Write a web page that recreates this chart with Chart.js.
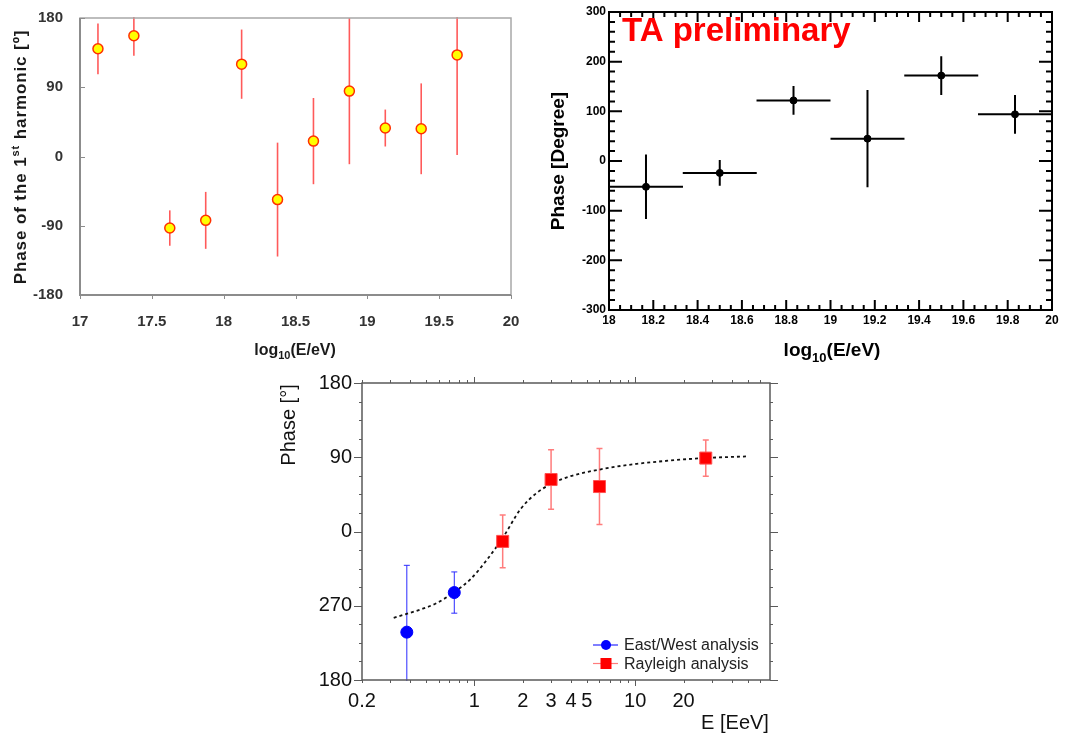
<!DOCTYPE html>
<html>
<head>
<meta charset="utf-8">
<script src="https://cdn.jsdelivr.net/npm/chart.js@4.4.0/dist/chart.umd.min.js"></script>
<style>
  html, body { margin: 0; padding: 0; background: #fff; }
  body { width: 1071px; height: 736px; position: relative; overflow: hidden; }
  canvas { position: absolute; }
  #c-auger { left: 0; top: 0; }
  #c-ta    { left: 540px; top: 0; }
  #c-pao   { left: 270px; top: 370px; }
</style>
</head>
<body>
<canvas id="c-auger" width="540" height="365"></canvas>
<canvas id="c-ta" width="531" height="365"></canvas>
<canvas id="c-pao" width="520" height="366"></canvas>
<script>
'use strict';

// ─── DATA ────────────────────────────────────────────────────────────────────

// top left: phase of the first harmonic vs log10(E/eV)
const augerLogE  = [17.125, 17.375, 17.625, 17.875, 18.125, 18.375, 18.625, 18.875, 19.125, 19.375, 19.625];
const augerPhase = [140, 157, -93, -83, 120, -56, 20, 85, 37, 36, 132];
const augerErr   = [33, 26, 23, 37, 45, 74, 56, 95, 24, 59, 130];

// top right: TA preliminary
const taLogE    = [18.167, 18.5, 18.833, 19.167, 19.5, 19.833];
const taBinHalf = [0.167, 0.167, 0.167, 0.167, 0.167, 0.167];
const taPhase   = [-52, -24, 122, 45, 172, 94];
const taErr     = [65, 26, 29, 98, 39, 39];

// bottom: phase vs E [EeV]
const ewEnergy   = [0.38, 0.75];
const ewPhase    = [-122, -74];
const ewErr      = [81, 25];
const rayEnergy  = [1.5, 3, 6, 27.5];
const rayPhase   = [-12, 63, 54.5, 89];
const rayErr     = [32, 36, 46, 22];
const fitEnergy  = [0.315, 0.462, 0.586, 0.748, 0.944, 1.2, 1.52, 1.93, 2.45, 3.11, 3.95, 6.36, 10.2, 16.5, 26.6, 49.4];
const fitPhase   = [-104.6, -94.5, -86.5, -73.5, -58, -34, -6, 26.7, 47, 59, 67, 76, 82, 86, 89, 91];
const energyTicks = [0.2, 1, 2, 3, 4, 5, 10, 20];
const phaseTicks  = [-180, -90, 0, 90, 180];

// ─── HELPERS ─────────────────────────────────────────────────────────────────

const pts = (xs, ys) => xs.map((x, i) => ({ x, y: ys[i] }));
const plainNum = v => String(+Number(v).toFixed(3));

// error bars, drawn under the markers and clipped to the plot area
const errorBars = {
  id: 'errorBars',
  beforeDatasetsDraw(chart) {
    const { ctx, chartArea: a, scales: { x, y } } = chart;
    ctx.save();
    ctx.beginPath();
    ctx.rect(a.left, a.top - 1, a.width, a.height + 2);
    ctx.clip();
    chart.data.datasets.forEach(ds => {
      if (!ds.yErr) return;
      ctx.strokeStyle = ds.errColor;
      ctx.lineWidth = ds.errWidth || 1;
      ds.data.forEach((p, i) => {
        const px = x.getPixelForValue(p.x);
        const py = y.getPixelForValue(p.y);
        const t = y.getPixelForValue(p.y + ds.yErr[i]);
        const b = y.getPixelForValue(p.y - ds.yErr[i]);
        ctx.beginPath();
        ctx.moveTo(px, t); ctx.lineTo(px, b);
        if (ds.xErr) {
          ctx.moveTo(x.getPixelForValue(p.x - ds.xErr[i]), py);
          ctx.lineTo(x.getPixelForValue(p.x + ds.xErr[i]), py);
        }
        if (ds.cap) {
          ctx.moveTo(px - ds.cap, t); ctx.lineTo(px + ds.cap, t);
          ctx.moveTo(px - ds.cap, b); ctx.lineTo(px + ds.cap, b);
        }
        ctx.stroke();
      });
    });
    ctx.restore();
  }
};

// text made of pieces (sub / superscripts), centred on x, baseline on y
function richText(ctx, parts, x, y, rotate, color, spacing) {
  ctx.save();
  ctx.translate(x, y);
  if (rotate) ctx.rotate(-Math.PI / 2);
  ctx.fillStyle = color;
  ctx.textBaseline = 'alphabetic';
  ctx.textAlign = 'left';
  if (spacing) ctx.letterSpacing = spacing + 'px';
  let total = 0;
  parts.forEach(p => { ctx.font = p.font; total += ctx.measureText(p.text).width; });
  let cx = -total / 2;
  parts.forEach(p => {
    ctx.font = p.font;
    ctx.fillText(p.text, cx, p.dy || 0);
    cx += ctx.measureText(p.text).width;
  });
  ctx.restore();
}

const titlesPlugin = {
  id: 'titles',
  afterDraw(chart, args, opts) {
    (opts.items || []).forEach(it => richText(chart.ctx, it.parts, it.x, it.y, it.rotate, it.color, it.spacing));
  }
};

// fixed axis boxes so the plot area lands where the reference has it
function fixedLayout(yWidth, xHeight) {
  return {
    y: s => { s.width = yWidth; s.paddingTop = 0; s.paddingBottom = 0; },
    x: s => { s.height = xHeight; s.paddingLeft = 0; s.paddingRight = 0; },
  };
}

function stepValues(min, max, step) {
  const out = [];
  const n = Math.round((max - min) / step);
  for (let k = 0; k <= n; k++) out.push(min + k * step);
  return out;
}

Chart.defaults.animation = false;
Chart.defaults.font.family = "'Liberation Sans', Arial, sans-serif";

// ─── TOP LEFT ────────────────────────────────────────────────────────────────

const augerFont = "'Liberation Sans', Arial, sans-serif";
const fitA = fixedLayout(80, 70);

new Chart(document.getElementById('c-auger'), {
  type: 'scatter',
  data: {
    datasets: [{
      data: pts(augerLogE, augerPhase),
      yErr: augerErr,
      errColor: '#ff5a5a',
      errWidth: 1.6,
      pointRadius: 5,
      pointBackgroundColor: '#ffff00',
      pointBorderColor: '#ff3000',
      pointBorderWidth: 1.5,
    }],
  },
  options: {
    responsive: false,
    layout: { autoPadding: false, padding: { top: 18, right: 29, left: 0, bottom: 0 } },
    plugins: {
      legend: { display: false },
      tooltip: { enabled: false },
      titles: {
        items: [
          { x: 26, y: 157, rotate: true, color: '#1a1a1a', spacing: 0.9, parts: [
            { text: 'Phase of the 1', font: `bold 17px ${augerFont}` },
            { text: 'st', font: `bold 11px ${augerFont}`, dy: -7 },
            { text: ' harmonic [º]', font: `bold 17px ${augerFont}` },
          ] },
          { x: 295, y: 355, color: '#1a1a1a', parts: [
            { text: 'log', font: `bold 16px ${augerFont}` },
            { text: '10', font: `bold 11px ${augerFont}`, dy: 4 },
            { text: '(E/eV)', font: `bold 16px ${augerFont}` },
          ] },
        ],
      },
    },
    scales: {
      x: {
        type: 'linear', min: 17, max: 20,
        afterFit: fitA.x,
        grid: { display: false, drawTicks: false },
        border: { display: false },
        ticks: { stepSize: 0.5, padding: 18, color: '#333', font: { size: 15, weight: 'bold' }, callback: plainNum },
      },
      y: {
        type: 'linear', min: -180, max: 180,
        afterFit: fitA.y,
        grid: { display: false, drawTicks: false },
        border: { display: false },
        ticks: { stepSize: 90, padding: 17, color: '#333', font: { size: 15, weight: 'bold' }, callback: plainNum },
      },
    },
  },
  plugins: [errorBars, titlesPlugin, {
    id: 'augerFrame',
    beforeDatasetsDraw(chart) {
      const { ctx, chartArea: a, scales: { x, y } } = chart;
      ctx.save();
      ctx.strokeStyle = '#a8a8a8';
      ctx.lineWidth = 1.5;
      ctx.strokeRect(a.left, a.top, a.width, a.height);
      ctx.strokeStyle = '#8c8c8c';
      ctx.lineWidth = 2;
      ctx.beginPath();
      ctx.moveTo(a.left, a.top); ctx.lineTo(a.left, a.bottom); ctx.lineTo(a.right, a.bottom);
      ctx.stroke();
      ctx.lineWidth = 1;
      ctx.beginPath();
      y.ticks.forEach(t => {
        const py = Math.round(y.getPixelForValue(t.value)) + 0.5;
        ctx.moveTo(a.left, py); ctx.lineTo(a.left + 5, py);
      });
      x.ticks.forEach(t => {
        const px = Math.round(x.getPixelForValue(t.value)) + 0.5;
        ctx.moveTo(px, a.bottom); ctx.lineTo(px, a.bottom + 4);
      });
      ctx.stroke();
      ctx.restore();
    },
  }],
});

// ─── TOP RIGHT ───────────────────────────────────────────────────────────────

const fitT = fixedLayout(69, 55);

new Chart(document.getElementById('c-ta'), {
  type: 'scatter',
  data: {
    datasets: [{
      data: pts(taLogE, taPhase),
      yErr: taErr,
      xErr: taBinHalf,
      errColor: '#000',
      errWidth: 2,
      pointRadius: 3.5,
      pointBackgroundColor: '#000',
      pointBorderColor: '#000',
      pointBorderWidth: 1,
    }],
  },
  options: {
    responsive: false,
    layout: { autoPadding: false, padding: { top: 12, right: 19, left: 0, bottom: 0 } },
    plugins: {
      legend: { display: false },
      tooltip: { enabled: false },
      titles: {
        items: [
          { x: 24, y: 161, rotate: true, color: '#000', parts: [
            { text: 'Phase [Degree]', font: "bold 19px 'Liberation Sans', Arial, sans-serif" },
          ] },
          { x: 292, y: 356, color: '#000', parts: [
            { text: 'log', font: "bold 19px 'Liberation Sans', Arial, sans-serif" },
            { text: '10', font: "bold 13px 'Liberation Sans', Arial, sans-serif", dy: 6 },
            { text: '(E/eV)', font: "bold 19px 'Liberation Sans', Arial, sans-serif" },
          ] },
        ],
      },
    },
    scales: {
      x: {
        type: 'linear', min: 18, max: 20,
        afterFit: fitT.x,
        grid: { display: false, drawTicks: false },
        border: { display: false },
        ticks: { stepSize: 0.2, padding: 3, color: '#000', font: { size: 12, weight: 'bold' }, callback: plainNum },
      },
      y: {
        type: 'linear', min: -300, max: 300,
        afterFit: fitT.y,
        grid: { display: false, drawTicks: false },
        border: { display: false },
        ticks: { stepSize: 100, padding: 3, color: '#000', font: { size: 12, weight: 'bold' }, callback: plainNum },
      },
    },
  },
  plugins: [errorBars, titlesPlugin, {
    id: 'taFrame',
    afterDraw(chart) {
      const { ctx, chartArea: a, scales: { x, y } } = chart;
      ctx.save();
      ctx.strokeStyle = '#000';
      ctx.lineWidth = 2;
      ctx.strokeRect(a.left, a.top, a.width, a.height);
      ctx.beginPath();
      stepValues(y.min, y.max, 20).forEach((v, k) => {
        const py = y.getPixelForValue(v);
        const len = k % 5 === 0 ? 13 : 6;
        ctx.moveTo(a.left, py); ctx.lineTo(a.left + len, py);
        ctx.moveTo(a.right, py); ctx.lineTo(a.right - len, py);
      });
      stepValues(x.min, x.max, 0.05).forEach((v, k) => {
        const px = x.getPixelForValue(v);
        const len = k % 4 === 0 ? 10 : 5;
        ctx.moveTo(px, a.bottom); ctx.lineTo(px, a.bottom - len);
        ctx.moveTo(px, a.top); ctx.lineTo(px, a.top + len);
      });
      ctx.stroke();
      // label inside the frame
      ctx.fillStyle = '#ff0000';
      ctx.font = "bold 33px 'Liberation Sans', Arial, sans-serif";
      ctx.textBaseline = 'alphabetic';
      ctx.fillText('TA preliminary', a.left + 13, a.top + 29);
      ctx.restore();
    },
  }],
});

// ─── BOTTOM ──────────────────────────────────────────────────────────────────

const fitP = fixedLayout(92, 56);
const paoFont = "'Liberation Sans', Arial, sans-serif";

new Chart(document.getElementById('c-pao'), {
  type: 'scatter',
  data: {
    datasets: [
      {
        label: 'fit',
        data: pts(fitEnergy, fitPhase),
        showLine: true,
        cubicInterpolationMode: 'monotone',
        borderColor: '#111',
        borderWidth: 1.8,
        borderDash: [3, 3],
        pointRadius: 0,
        order: 3,
      },
      {
        label: 'East/West analysis',
        data: pts(ewEnergy, ewPhase),
        yErr: ewErr,
        errColor: '#2a2aff',
        errWidth: 1,
        cap: 3,
        pointStyle: 'circle',
        pointRadius: 6,
        pointBackgroundColor: '#0000ff',
        pointBorderColor: '#0000ff',
        order: 1,
      },
      {
        label: 'Rayleigh analysis',
        data: pts(rayEnergy, rayPhase),
        yErr: rayErr,
        errColor: '#ff7c7c',
        errWidth: 1.5,
        cap: 3,
        pointStyle: 'rect',
        pointRadius: 8.5,
        pointBackgroundColor: '#ff0000',
        pointBorderColor: '#ff5050',
        pointBorderWidth: 1,
        order: 2,
      },
    ],
  },
  options: {
    responsive: false,
    layout: { autoPadding: false, padding: { top: 13, right: 20, left: 0, bottom: 0 } },
    plugins: {
      legend: { display: false },
      tooltip: { enabled: false },
      titles: {
        items: [
          { x: 25, y: 55, rotate: true, color: '#111', parts: [
            { text: 'Phase [°]', font: `20px ${paoFont}` },
          ] },
          { x: 465, y: 359, color: '#111', parts: [
            { text: 'E [EeV]', font: `20px ${paoFont}` },
          ] },
        ],
      },
    },
    scales: {
      x: {
        type: 'logarithmic', min: 0.2, max: 69,
        afterFit: fitP.x,
        afterBuildTicks: s => { s.ticks = energyTicks.map(value => ({ value })); },
        grid: { display: false, drawTicks: false },
        border: { display: false },
        ticks: {
          autoSkip: false, maxRotation: 0, padding: 9,
          color: '#111', font: { size: 20 },
          callback: v => String(v),
        },
      },
      y: {
        type: 'linear', min: -180, max: 180,
        afterFit: fitP.y,
        afterBuildTicks: s => { s.ticks = phaseTicks.map(value => ({ value })); },
        grid: { display: false, drawTicks: false },
        border: { display: false },
        ticks: {
          padding: 10, color: '#111', font: { size: 20 },
          callback: v => String(v < 0 ? v + 360 : v),
        },
      },
    },
  },
  plugins: [errorBars, titlesPlugin, {
    id: 'paoFrame',
    afterDraw(chart) {
      const { ctx, chartArea: a, scales: { x, y } } = chart;
      ctx.save();
      ctx.strokeStyle = '#5a5a5a';
      ctx.lineWidth = 1.5;
      ctx.strokeRect(a.left, a.top, a.width, a.height);
      ctx.lineWidth = 1;
      ctx.beginPath();
      stepValues(y.min, y.max, 22.5).forEach((v, k) => {
        const py = Math.round(y.getPixelForValue(v)) + 0.5;
        const len = k % 4 === 0 ? 8 : 3;
        ctx.moveTo(a.left, py); ctx.lineTo(a.left - len, py);
        ctx.moveTo(a.right, py); ctx.lineTo(a.right + len, py);
      });
      const minors = [];
      [0.1, 1, 10].forEach(dec => { for (let m = 1; m <= 9; m++) minors.push(m * dec); });
      minors.filter(v => v >= x.min && v <= x.max).forEach(v => {
        const px = Math.round(x.getPixelForValue(v)) + 0.5;
        const len = (v === 1 || v === 10) ? 6 : 3;
        ctx.moveTo(px, a.bottom); ctx.lineTo(px, a.bottom + len);
        ctx.moveTo(px, a.top); ctx.lineTo(px, a.top - len);
      });
      ctx.stroke();

      // legend, bottom right inside the frame
      const lx = a.left + 244, ly = a.top + 262;
      const rows = [
        { text: 'East/West analysis', line: '#2a2aff', fill: '#0000ff', shape: 'circle' },
        { text: 'Rayleigh analysis', line: '#ff7c7c', fill: '#ff0000', shape: 'rect' },
      ];
      ctx.font = `16px ${paoFont}`;
      ctx.textBaseline = 'middle';
      rows.forEach((r, i) => {
        const yy = ly + i * 18.5;
        ctx.strokeStyle = r.line;
        ctx.lineWidth = 1.2;
        ctx.beginPath(); ctx.moveTo(lx - 13, yy); ctx.lineTo(lx + 12, yy); ctx.stroke();
        ctx.fillStyle = r.fill;
        ctx.beginPath();
        if (r.shape === 'circle') ctx.arc(lx, yy, 5, 0, Math.PI * 2);
        else ctx.rect(lx - 5.5, yy - 5.5, 11, 11);
        ctx.fill();
        ctx.fillStyle = '#222';
        ctx.fillText(r.text, lx + 18, yy + 1);
      });
      ctx.restore();
    },
  }],
});
</script>
</body>
</html>
